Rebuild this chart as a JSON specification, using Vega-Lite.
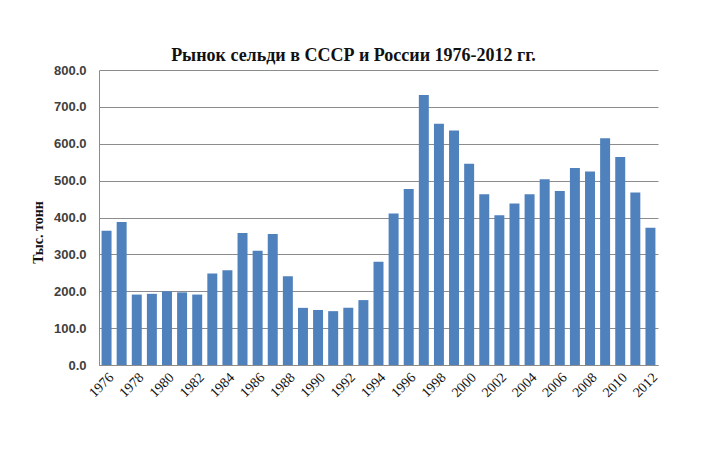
{
  "$schema": "https://vega.github.io/schema/vega-lite/v6.json",
  "autosize": "none",
  "width": 559,
  "height": 295,
  "padding": {"left": 99, "top": 70, "right": 51, "bottom": 94},
  "background": "white",
  "title": {
    "text": "Рынок сельди в СССР и России 1976-2012  гг.",
    "font": "Liberation Serif",
    "fontSize": 18,
    "fontWeight": "bold",
    "color": "#111111",
    "anchor": "middle",
    "dx": -25,
    "offset": -1
  },
  "data": {
    "values": [
      {"year": 1976, "value": 364},
      {"year": 1977, "value": 388},
      {"year": 1978, "value": 191},
      {"year": 1979, "value": 193},
      {"year": 1980, "value": 200},
      {"year": 1981, "value": 197},
      {"year": 1982, "value": 191},
      {"year": 1983, "value": 248},
      {"year": 1984, "value": 257},
      {"year": 1985, "value": 358},
      {"year": 1986, "value": 310},
      {"year": 1987, "value": 355},
      {"year": 1988, "value": 241},
      {"year": 1989, "value": 155},
      {"year": 1990, "value": 149},
      {"year": 1991, "value": 146},
      {"year": 1992, "value": 155},
      {"year": 1993, "value": 176},
      {"year": 1994, "value": 280},
      {"year": 1995, "value": 411},
      {"year": 1996, "value": 477},
      {"year": 1997, "value": 732},
      {"year": 1998, "value": 654},
      {"year": 1999, "value": 636},
      {"year": 2000, "value": 546},
      {"year": 2001, "value": 463},
      {"year": 2002, "value": 406},
      {"year": 2003, "value": 438},
      {"year": 2004, "value": 463},
      {"year": 2005, "value": 504},
      {"year": 2006, "value": 472},
      {"year": 2007, "value": 534},
      {"year": 2008, "value": 525},
      {"year": 2009, "value": 615},
      {"year": 2010, "value": 564},
      {"year": 2011, "value": 468},
      {"year": 2012, "value": 372}
    ]
  },
  "mark": {"type": "bar", "color": "#4F81BD"},
  "encoding": {
    "x": {
      "field": "year",
      "type": "ordinal",
      "title": null,
      "scale": {"paddingInner": 0.34, "paddingOuter": 0.17},
      "axis": {
        "values": [1976, 1978, 1980, 1982, 1984, 1986, 1988, 1990, 1992, 1994, 1996, 1998, 2000, 2002, 2004, 2006, 2008, 2010, 2012],
        "labelAngle": -45,
        "labelAlign": "right",
        "labelBaseline": "top",
        "labelFont": "Liberation Serif",
        "labelFontSize": 14,
        "labelColor": "#111111",
        "labelPadding": 5,
        "ticks": false,
        "domainColor": "#8c8c8c",
        "grid": false
      }
    },
    "y": {
      "field": "value",
      "type": "quantitative",
      "title": "Тыс. тонн",
      "scale": {"domain": [0, 800], "nice": false},
      "axis": {
        "values": [0, 100, 200, 300, 400, 500, 600, 700, 800],
        "format": ".1f",
        "labelFont": "Liberation Sans",
        "labelFontSize": 13,
        "labelFontWeight": "bold",
        "labelColor": "#404040",
        "labelPadding": 13,
        "ticks": false,
        "domainColor": "#8c8c8c",
        "gridColor": "#8c8c8c",
        "titleFont": "Liberation Serif",
        "titleFontSize": 14,
        "titleFontWeight": "bold",
        "titleColor": "#111111",
        "titleX": -54,
        "titleY": 162
      }
    }
  },
  "config": {
    "view": {"stroke": null}
  }
}
